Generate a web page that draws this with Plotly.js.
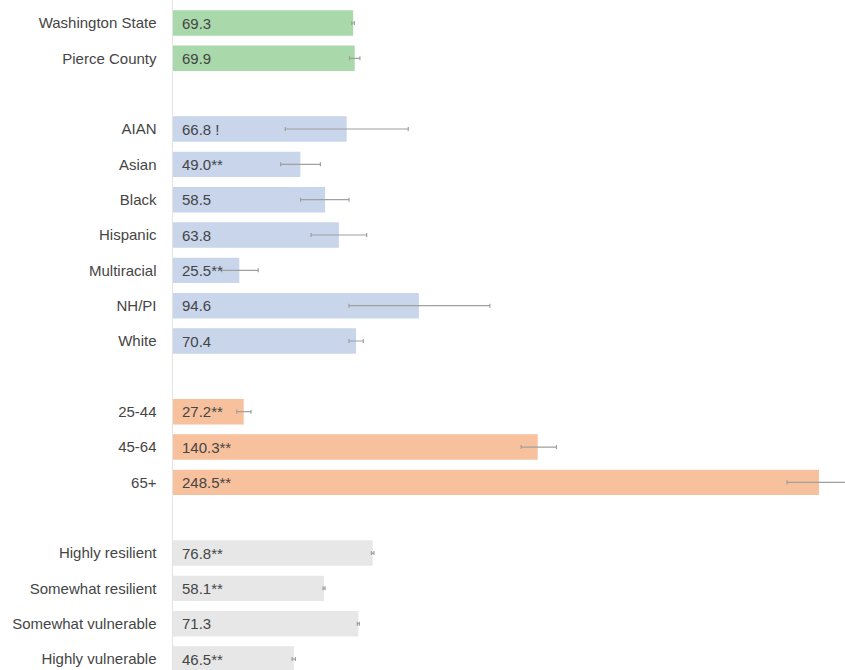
<!DOCTYPE html>
<html>
<head>
<meta charset="utf-8">
<script src="https://cdn.plot.ly/plotly-3.0.1.min.js"></script>
<style>html,body{margin:0;padding:0;background:#fff;}#chart{width:845px;height:670px;}</style>
</head>
<body>
<div id="chart"></div>
<script>
// Data
const categories = ["Washington State","Pierce County","gap1","AIAN","Asian","Black","Hispanic","Multiracial","NH/PI","White","gap2","25-44","45-64","65+","gap3","Highly resilient","Somewhat resilient","Somewhat vulnerable","Highly vulnerable"];
const groups = ["overall","overall","","race","race","race","race","race","race","race","","age","age","age","","resil","resil","resil","resil"];
const values = [69.3,69.9,null,66.8,49.0,58.5,63.8,25.5,94.6,70.4,null,27.2,140.3,248.5,null,76.8,58.1,71.3,46.5];
const lower  = [68.8,67.9,null,43.2,41.4,49.1,53.1,18.7,67.7,67.7,null,24.5,133.9,236.2,null,76.3,57.7,70.9,45.8];
const upper  = [69.8,71.9,null,90.5,56.7,67.7,74.5,32.8,121.9,73.2,null,30.0,147.5,260.8,null,77.3,58.5,71.7,47.1];
const valueLabels = ["69.3","69.9","","66.8 !","49.0**","58.5","63.8","25.5**","94.6","70.4","","27.2**","140.3**","248.5**","","76.8**","58.1**","71.3","46.5**"];

const groupColors = {overall:"#a9d8ab", race:"#c8d5eb", age:"#f8c19d", resil:"#e7e7e7", "":"rgba(0,0,0,0)"};
const FONT = "Liberation Sans, Arial, sans-serif";
const TXT = "#454545";

const yLabels = categories.map(c => c.startsWith("gap") ? "" : c);
const yKeys = categories.map((c,i) => c.startsWith("gap") ? " ".repeat(i+1) : c);

const barTrace = {
  type: "bar",
  orientation: "h",
  y: yKeys,
  x: values,
  width: 0.72,
  marker: {color: groups.map(g => groupColors[g]), line: {width: 0}},
  error_x: {
    type: "data",
    symmetric: false,
    array: values.map((v,i) => v == null ? null : upper[i] - v),
    arrayminus: values.map((v,i) => v == null ? null : v - lower[i]),
    color: "#a0a0a0",
    thickness: 1.2,
    width: 2
  },
  hoverinfo: "skip",
  showlegend: false
};

const annotations = [];
values.forEach((v,i) => {
  if (v == null) return;
  annotations.push({
    x: 0, y: yKeys[i], xref: "x", yref: "y",
    text: valueLabels[i], showarrow: false,
    xanchor: "left", yanchor: "middle", xshift: 7,
    font: {family: FONT, size: 15, color: TXT}
  });
});

const layout = {
  width: 845,
  height: 670,
  margin: {l: 173, r: 0, t: 0, b: 0, pad: 0},
  paper_bgcolor: "#ffffff",
  plot_bgcolor: "#ffffff",
  font: {family: FONT, size: 15, color: TXT},
  xaxis: {range: [0, 258.5], showgrid: false, zeroline: false, showticklabels: false, showline: false, fixedrange: true},
  yaxis: {
    type: "category",
    categoryorder: "array",
    categoryarray: yKeys,
    tickmode: "array",
    tickvals: yKeys,
    ticktext: yLabels,
    range: [18.31, -0.651],
    showgrid: false,
    zeroline: false,
    showline: true,
    linecolor: "#e3e3e3",
    linewidth: 1.5,
    ticks: "",
    ticklabelstandoff: 12,
    tickfont: {family: FONT, size: 15, color: TXT}
  },
  annotations: annotations
};

Plotly.newPlot("chart", [barTrace], layout, {displayModeBar: false, staticPlot: true});
</script>
</body>
</html>
